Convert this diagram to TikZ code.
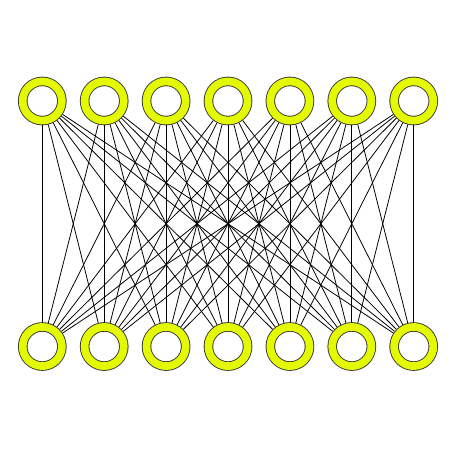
\documentclass[tikz,border=0pt]{standalone}
\usepackage{tikz}
\definecolor{ringyellow}{RGB}{228,250,0}

\begin{document}
\begin{tikzpicture}[x=0.02cm, y=-0.02cm,
        ring/.style={circle, draw=black!80, line width=0.5pt, double=ringyellow,
            double distance=4.4pt, fill=white, inner sep=0pt,
            minimum size=22.3pt, outer sep=2.7pt}]
        \useasboundingbox (0,0) rectangle (450,450);
        \foreach \i in {1,...,7} {
            \node[ring] (t\i) at ({42.3+61.9*(\i-1)},101) {};
            \node[ring] (b\i) at ({42.3+61.9*(\i-1)},346.5) {};
        }
        \foreach \i in {1,...,7} {
            \foreach \j in {1,...,7} {
                \draw[line width=0.45pt] (t\i) -- (b\j);
            }
        }
    \end{tikzpicture}
\end{document}
